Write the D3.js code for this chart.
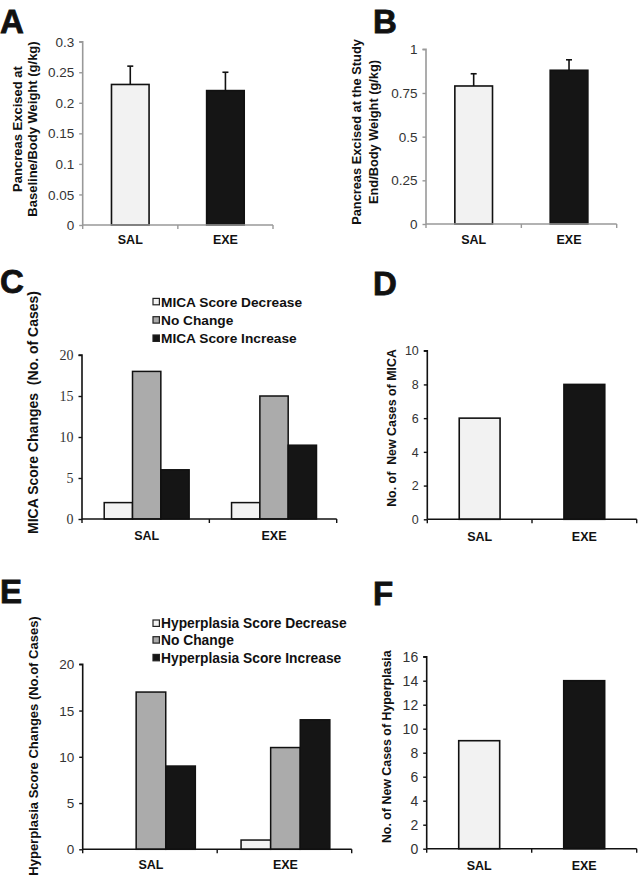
<!DOCTYPE html>
<html>
<head>
<meta charset="utf-8">
<script src="https://cdn.jsdelivr.net/npm/d3@7"></script>
<style>
html,body{margin:0;padding:0;background:#fff;}
svg{display:block;}
</style>
</head>
<body>
<svg id="chart" width="640" height="876"></svg>
<script>
// ---------- DATA ----------
const categories = ["SAL", "EXE"];

// Panel A
const baselineWeight = [0.23, 0.22];
const baselineWeightErr = [0.03, 0.03];
const ticksA = [0, 0.05, 0.1, 0.15, 0.2, 0.25, 0.3];

// Panel B
const endWeight = [0.79, 0.88];
const endWeightErr = [0.07, 0.06];
const ticksB = [0, 0.25, 0.5, 0.75, 1];

// Panel C
const micaSeries = ["MICA Score Decrease", "No Change", "MICA Score Increase"];
const micaDecrease = [2, 2];
const micaNoChange = [18, 15];
const micaIncrease = [6, 9];
const ticksC = [0, 5, 10, 15, 20];

// Panel D
const newMica = [6, 8];
const ticksD = [0, 2, 4, 6, 8, 10];

// Panel E
const hyperSeries = ["Hyperplasia Score Decrease", "No Change", "Hyperplasia Score Increase"];
const hyperDecrease = [0, 1];
const hyperNoChange = [17, 11];
const hyperIncrease = [9, 14];
const ticksE = [0, 5, 10, 15, 20];

// Panel F
const newHyper = [9, 14];
const ticksF = [0, 2, 4, 6, 8, 10, 12, 14, 16];

// ---------- STYLE ----------
const LIGHT = "#f2f2f2", GREY = "#ababab", DARK = "#151515";
const SANS = "'Liberation Sans', Arial, sans-serif";
const SERIF = "'Liberation Serif', 'Times New Roman', serif";

const svg = d3.select("#chart");

function panel(cfg) {
  const g = svg.append("g");
  const y = d3.scaleLinear().domain([cfg.ticks[0], cfg.ticks[cfg.ticks.length - 1]]).range([cfg.yBot, cfg.yTop]);
  const x = d3.scaleBand().domain(categories).range([cfg.x0, cfg.x1]).paddingInner(0).paddingOuter(0);

  // bars
  if (cfg.single) {
    const w = x.bandwidth() * cfg.barFrac;
    g.selectAll("rect.bar").data(categories).join("rect")
      .attr("x", (d) => x(d) + (x.bandwidth() - w) / 2 + cfg.shift)
      .attr("width", w)
      .attr("y", (d, i) => y(cfg.single[i]))
      .attr("height", (d, i) => y(0) - y(cfg.single[i]))
      .attr("fill", (d, i) => i === 0 ? LIGHT : DARK)
      .attr("stroke", "#111").attr("stroke-width", 1.6);
    if (cfg.err) {
      categories.forEach((c, i) => {
        const cx = x(c) + x.bandwidth() / 2 + cfg.shift;
        const top = y(cfg.single[i] + cfg.err[i]);
        g.append("line").attr("x1", cx).attr("x2", cx).attr("y1", y(cfg.single[i])).attr("y2", top)
          .attr("stroke", "#111").attr("stroke-width", 1.6);
        g.append("line").attr("x1", cx - 3).attr("x2", cx + 3).attr("y1", top).attr("y2", top)
          .attr("stroke", "#111").attr("stroke-width", 1.6);
      });
    }
  } else {
    const gw = x.bandwidth() * cfg.barFrac;
    const xs = d3.scaleBand().domain([0, 1, 2]).range([0, gw]).padding(0);
    const fills = [LIGHT, GREY, DARK];
    categories.forEach((c, ci) => {
      const gx = x(c) + (x.bandwidth() - gw) / 2 + cfg.shift;
      cfg.groups.forEach((arr, si) => {
        const v = arr[ci];
        if (v <= 0) return;
        g.append("rect")
          .attr("x", gx + xs(si)).attr("width", xs.bandwidth())
          .attr("y", y(v)).attr("height", y(0) - y(v))
          .attr("fill", fills[si]).attr("stroke", "#111").attr("stroke-width", 1.5);
      });
    });
  }

  // y axis
  const yAxis = d3.axisLeft(y).tickValues(cfg.ticks).tickSize(3.5).tickPadding(5)
    .tickFormat(cfg.fmt || ((d) => String(d)));
  const ya = g.append("g").attr("transform", `translate(${cfg.x0},0)`).call(yAxis);
  ya.select(".domain").attr("stroke", cfg.axisColor).attr("stroke-width", 1.6)
    .attr("d", `M${-3.5},${cfg.yTop}H0V${cfg.yBot}`);
  ya.selectAll(".tick line").attr("stroke", cfg.axisColor).attr("stroke-width", 1.4);
  ya.selectAll(".tick text").attr("font-family", cfg.tickFont).attr("font-size", cfg.tickSize)
    .attr("fill", "#333").attr("dy", "0.34em");

  // x axis line + ticks at band boundaries
  const bounds = [cfg.x0, cfg.x0 + x.step(), cfg.x1];
  g.append("line").attr("x1", cfg.x0).attr("x2", cfg.x1).attr("y1", cfg.yBot).attr("y2", cfg.yBot)
    .attr("stroke", cfg.axisColor).attr("stroke-width", 1.6);
  g.selectAll("line.xt").data(bounds).join("line")
    .attr("x1", (d) => d).attr("x2", (d) => d).attr("y1", cfg.yBot).attr("y2", cfg.yBot + 4)
    .attr("stroke", cfg.axisColor).attr("stroke-width", 1.4);
  g.selectAll("text.cat").data(categories).join("text")
    .attr("x", (d) => x(d) + x.bandwidth() / 2 + cfg.shift)
    .attr("y", cfg.catY)
    .attr("text-anchor", "middle").attr("font-family", SANS).attr("font-weight", "bold")
    .attr("font-size", 12.5).attr("fill", "#111").text((d) => d);

  // y label(s)
  cfg.ylabel.forEach((t, i) => {
    g.append("text")
      .attr("transform", `translate(${cfg.labelX[i]},${cfg.labelY}) rotate(-90)`)
      .attr("text-anchor", "middle").attr("font-family", SANS).attr("font-weight", "bold")
      .attr("font-size", cfg.labelSize).attr("fill", "#111")
      .attr("xml:space", "preserve").style("white-space", "pre").text(t);
  });

  // panel letter
  g.append("text").attr("x", cfg.letterX).attr("y", cfg.letterY)
    .attr("font-family", SANS).attr("font-weight", "bold").attr("font-size", 33)
    .attr("fill", "#111").style("stroke", "#111").style("stroke-width", 0.8).text(cfg.letter);

  // legend
  if (cfg.legend) {
    cfg.legend.forEach((t, i) => {
      const cy = cfg.legendY[i];
      g.append("rect").attr("x", 153).attr("y", cy - 3.3).attr("width", 6.4).attr("height", 6.4)
        .attr("fill", [LIGHT, GREY, DARK][i]).attr("stroke", "#222").attr("stroke-width", 1.2);
      g.append("text").attr("x", 161).attr("y", cy + 5)
        .attr("font-family", SANS).attr("font-weight", "bold").attr("font-size", cfg.legendSize)
        .attr("fill", "#111").text(t);
    });
  }
}

panel({
  letter: "A", letterX: 0, letterY: 33,
  x0: 82.7, x1: 273, yTop: 41.7, yBot: 225, ticks: ticksA, fmt: (d) => String(d),
  single: baselineWeight, err: baselineWeightErr, barFrac: 0.395, shift: 0,
  axisColor: "#999", tickFont: SANS, tickSize: 13.5, catY: 244,
  ylabel: ["Pancreas Excised at", "Baseline/Body Weight (g/kg)"], labelX: [21.5, 36.5], labelY: 129, labelSize: 13
});

panel({
  letter: "B", letterX: 373, letterY: 33,
  x0: 426, x1: 616.7, yTop: 49.3, yBot: 224, ticks: ticksB, fmt: (d) => String(d),
  single: endWeight, err: endWeightErr, barFrac: 0.395, shift: 0,
  axisColor: "#999", tickFont: SANS, tickSize: 13.5, catY: 244,
  ylabel: ["Pancreas Excised at the Study", "End/Body Weight (g/kg)"], labelX: [361, 378], labelY: 132, labelSize: 12.8
});

panel({
  letter: "C", letterX: 0, letterY: 293,
  x0: 82, x1: 336.7, yTop: 355, yBot: 519, ticks: ticksC,
  groups: [micaDecrease, micaNoChange, micaIncrease], barFrac: 0.667, shift: 1,
  axisColor: "#111", tickFont: SERIF, tickSize: 14, catY: 540,
  ylabel: ["MICA Score Changes  (No. of Cases)"], labelX: [38], labelY: 412.5, labelSize: 14,
  legend: micaSeries, legendY: [301.7, 320, 338.3], legendSize: 13.7
});

panel({
  letter: "D", letterX: 373, letterY: 295,
  x0: 427.3, x1: 636.7, yTop: 350.7, yBot: 519.3, ticks: ticksD,
  single: newMica, barFrac: 0.39, shift: 0,
  axisColor: "#111", tickFont: SANS, tickSize: 12.5, catY: 541,
  ylabel: ["No. of  New Cases of MICA"], labelX: [396], labelY: 428, labelSize: 12.4
});

panel({
  letter: "E", letterX: 0, letterY: 603,
  x0: 82.7, x1: 351.7, yTop: 664.3, yBot: 849.3, ticks: ticksE,
  groups: [hyperDecrease, hyperNoChange, hyperIncrease], barFrac: 0.66, shift: 1,
  axisColor: "#111", tickFont: SANS, tickSize: 13.5, catY: 869,
  ylabel: ["Hyperplasia Score Changes (No.of Cases)"], labelX: [38], labelY: 746, labelSize: 13,
  legend: hyperSeries, legendY: [623.3, 640, 657.7], legendSize: 13.8
});

panel({
  letter: "F", letterX: 373, letterY: 605,
  x0: 426.7, x1: 636.7, yTop: 656.7, yBot: 848.7, ticks: ticksF,
  single: newHyper, barFrac: 0.39, shift: 0,
  axisColor: "#111", tickFont: SANS, tickSize: 14, catY: 870,
  ylabel: ["No. of New Cases of Hyperplasia"], labelX: [391], labelY: 746.7, labelSize: 12.4
});
</script>
</body>
</html>
